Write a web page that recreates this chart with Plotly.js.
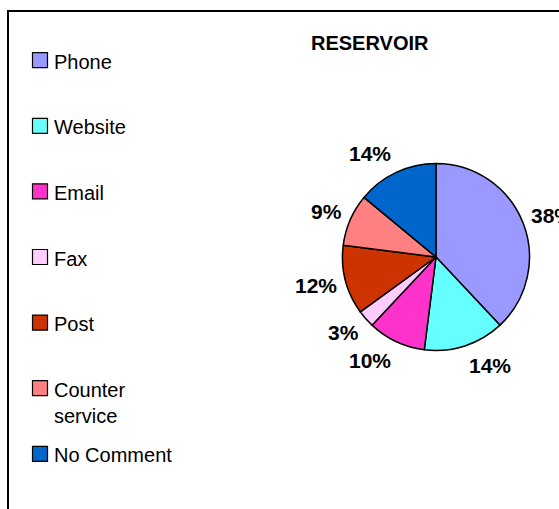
<!DOCTYPE html>
<html>
<head>
<meta charset="utf-8">
<script src="https://cdn.plot.ly/plotly-3.0.1.min.js"></script>
<style>html,body{margin:0;padding:0;background:#fff;}#chart{width:559px;height:509px;}</style>
</head>
<body>
<div id="chart"></div>
<script>
var labels = ["Phone", "Website", "Email", "Fax", "Post", "Counter service", "No Comment"];
var values = [38, 14, 10, 3, 12, 9, 14];
var colors = ["#9999FF", "#66FFFF", "#FF33CC", "#FFCCFF", "#CC3300", "#FF8080", "#0066CC"];
var chartTitle = "RESERVOIR";

var W = 559, H = 509;
var FONT = "Liberation Sans, Arial, sans-serif";
function px(x) { return x / W; }
function py(y) { return 1 - y / H; }

var cx = 436, cy = 257, r = 93.5;

var trace = {
  type: "pie",
  labels: labels,
  values: values,
  sort: false,
  direction: "clockwise",
  rotation: 0,
  marker: { colors: colors, line: { color: "#000000", width: 1.5 } },
  textinfo: "none",
  showlegend: false,
  domain: { x: [px(cx - r), px(cx + r)], y: [py(cy + r), py(cy - r)] },
  hoverinfo: "label+percent"
};

var shapes = [{
  type: "rect", xref: "paper", yref: "paper",
  x0: px(8), x1: px(W + 10), y0: py(H + 10), y1: py(11),
  line: { color: "#000000", width: 2 }, fillcolor: "rgba(0,0,0,0)", layer: "above"
}];
var annotations = [{
  text: "<b>" + chartTitle + "</b>", xref: "paper", yref: "paper",
  x: px(369.5), y: py(43), xanchor: "center", yanchor: "middle", showarrow: false,
  font: { family: FONT, size: 20, color: "#000000" }
}];

// Percentage labels placed just outside each slice, at the slice's mid-angle
var total = values.reduce(function (a, b) { return a + b; }, 0);
var cum = 0;
values.forEach(function (v, i) {
  var mid = (cum + v / 2) / total * 2 * Math.PI; // clockwise from 12 o'clock
  cum += v;
  var s = Math.sin(mid), c = Math.cos(mid);
  var d = r * 1.07;
  var X = cx + d * s, Y = cy - d * c;
  annotations.push({
    text: "<b>" + Math.round(v / total * 100) + "%</b>",
    xref: "paper", yref: "paper",
    x: px(X), y: py(Y - 14 * c),
    xanchor: s >= 0 ? "left" : "right", yanchor: "middle",
    showarrow: false,
    font: { family: FONT, size: 21, color: "#000000" }
  });
});

function wrap(s) {
  return s.length > 12 ? s.replace(" ", "<br>") : s;
}

var legTop = 61.7, legStep = 65.6, sq = 15;
labels.forEach(function (lab, i) {
  var yc = legTop + i * legStep;
  shapes.push({
    type: "rect", xref: "paper", yref: "paper",
    x0: px(32.5), x1: px(32.5 + sq), y0: py(yc - 1.5 + sq / 2), y1: py(yc - 1.5 - sq / 2),
    fillcolor: colors[i], line: { color: "#000000", width: 1.2 }
  });
  annotations.push({
    text: wrap(lab), xref: "paper", yref: "paper",
    x: px(52), y: py(yc - 13), xanchor: "left", yanchor: "top", align: "left",
    showarrow: false,
    font: { family: FONT, size: 20, color: "#000000" }
  });
});

var layout = {
  width: W, height: H,
  margin: { l: 0, r: 0, t: 0, b: 0 },
  paper_bgcolor: "#ffffff",
  plot_bgcolor: "#ffffff",
  showlegend: false,
  shapes: shapes,
  annotations: annotations
};

Plotly.newPlot("chart", [trace], layout, { displayModeBar: false, staticPlot: true });
</script>
</body>
</html>
